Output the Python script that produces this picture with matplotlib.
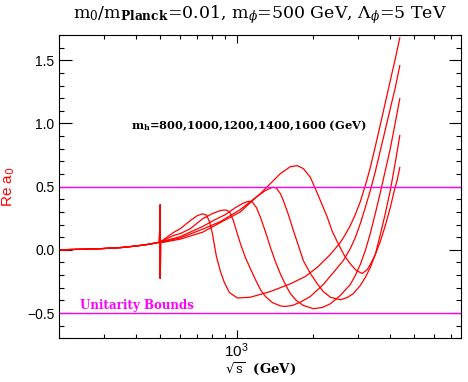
import numpy as np
import matplotlib.pyplot as plt
from matplotlib.ticker import MultipleLocator, LogLocator, NullFormatter

plt.rcParams['font.family'] = 'Liberation Sans'
plt.rcParams['mathtext.fontset'] = 'dejavusans'

# общий участок до радионного резонанса (m_phi = 500 GeV), одинаков для всех m_h
x_low = [200, 290, 350, 400, 440, 480, 496, 499.5, 500.2, 501]
y_low = [0.0, 0.009, 0.018, 0.030, 0.041, 0.054, 0.060, 0.355, -0.225, 0.066]

# m_h = 800
x_800 = [510, 563, 600, 657, 700, 733, 760, 781, 802, 832, 863, 894, 936, 1006, 1132,
         1357, 1627, 1864, 2078, 2338, 2560, 2679, 2803, 2933, 3069, 3211, 3360, 3516,
         3680, 3850, 4028, 4215, 4391]
y_800 = [0.074, 0.137, 0.168, 0.232, 0.271, 0.285, 0.275, 0.224, 0.129, -0.053, -0.172,
         -0.258, -0.338, -0.381, -0.375, -0.330, -0.269, -0.211, -0.138, -0.037, 0.058,
         0.121, 0.192, 0.279, 0.382, 0.508, 0.651, 0.817, 0.990, 1.164, 1.338, 1.512, 1.678]

# m_h = 1000
x_1000 = [510, 563, 600, 657, 733, 802, 863, 903, 936, 970, 1002, 1034, 1082, 1132, 1185,
          1240, 1297, 1382, 1486, 1555, 1657, 1781, 1951, 2194, 2403, 2630, 2803, 2933,
          3069, 3211, 3360, 3516, 3680, 3850, 4028, 4215, 4391]
y_1000 = [0.070, 0.113, 0.129, 0.168, 0.245, 0.287, 0.311, 0.316, 0.303, 0.232, 0.137,
          0.050, -0.061, -0.148, -0.235, -0.314, -0.369, -0.417, -0.444, -0.448, -0.440,
          -0.414, -0.369, -0.274, -0.180, -0.085, 0.010, 0.097, 0.208, 0.334, 0.469,
          0.619, 0.785, 0.951, 1.117, 1.283, 1.457]

# m_h = 1200
x_1200 = [510, 600, 733, 824, 903, 988, 1063, 1112, 1153, 1196, 1240, 1297, 1357, 1420,
          1486, 1555, 1627, 1718, 1830, 2005, 2175, 2338, 2560, 2803, 2933, 3069, 3211,
          3360, 3516, 3680, 3850, 4028, 4215, 4391]
y_1200 = [0.066, 0.105, 0.184, 0.240, 0.279, 0.334, 0.370, 0.384, 0.378, 0.334, 0.258,
          0.145, 0.021, -0.092, -0.190, -0.274, -0.346, -0.401, -0.440, -0.466, -0.456,
          -0.427, -0.361, -0.274, -0.203, -0.116, -0.006, 0.129, 0.287, 0.453, 0.627,
          0.800, 1.006, 1.196]

# m_h = 1400
x_1400 = [510, 600, 733, 863, 1034, 1185, 1297, 1382, 1433, 1486, 1527, 1598, 1672, 1750,
          1830, 1951, 2078, 2194, 2338, 2560, 2728, 2880, 3069, 3211, 3360, 3516, 3680,
          3850, 4028, 4215, 4391]
y_1400 = [0.062, 0.095, 0.163, 0.224, 0.319, 0.413, 0.469, 0.495, 0.489, 0.445, 0.390,
          0.279, 0.153, 0.034, -0.085, -0.187, -0.269, -0.330, -0.375, -0.395, -0.377,
          -0.346, -0.282, -0.219, -0.140, -0.037, 0.121, 0.287, 0.469, 0.690, 0.904]

# m_h = 1600
x_1600 = [510, 600, 733, 863, 1034, 1132, 1240, 1357, 1486, 1627, 1734, 1830, 1951, 2097,
          2275, 2381, 2514, 2655, 2803, 2960, 3125, 3270, 3360, 3516, 3680, 3850, 4028,
          4177, 4293, 4391]
y_1600 = [0.058, 0.085, 0.139, 0.216, 0.300, 0.374, 0.445, 0.524, 0.603, 0.658, 0.666,
          0.643, 0.574, 0.429, 0.258, 0.145, 0.047, -0.045, -0.111, -0.164, -0.187,
          -0.156, -0.116, -0.037, 0.066, 0.192, 0.334, 0.469, 0.556, 0.651]

unitarity = [0.5, -0.5]

curves = [(x_800, y_800), (x_1000, y_1000), (x_1200, y_1200),
          (x_1400, y_1400), (x_1600, y_1600)]

fig = plt.figure(figsize=(4.68, 3.82), dpi=100)
ax = fig.add_axes([0.1267, 0.1144, 0.8583, 0.794])

for xs, ys in curves:
    ax.plot(x_low + xs, y_low + ys, color='red', lw=0.9)

for u in unitarity:
    ax.axhline(u, color='magenta', lw=1.0)

ax.set_xscale('log')
ax.set_xlim(200, 7650)
ax.set_ylim(-0.7, 1.7)

ax.xaxis.set_major_locator(LogLocator(base=10))
ax.xaxis.set_minor_locator(LogLocator(base=10, subs=np.arange(2, 10)))
ax.xaxis.set_minor_formatter(NullFormatter())
ax.yaxis.set_major_locator(MultipleLocator(0.5))
ax.yaxis.set_minor_locator(MultipleLocator(0.1))

ax.tick_params(which='both', direction='in', top=True, right=True, width=0.8,
               labelsize=10, colors='black')
ax.tick_params(axis='y', which='major', length=9)
ax.tick_params(axis='y', which='minor', length=3.6)
ax.tick_params(axis='x', which='major', length=6, pad=2.5, labelsize=11)
ax.tick_params(axis='x', which='minor', length=3)
for s in ax.spines.values():
    s.set_linewidth(0.8)

ax.set_title(r"m$_0$/m$_{\bf Planck}$=0.01, m$_\phi$=500 GeV, $\Lambda_\phi$=5 TeV",
             family='DejaVu Serif', math_fontfamily='dejavuserif', fontsize=12.5, pad=12)

ax.text(382, 0.98, r"m$_\mathbf{h}$=800,1000,1200,1400,1600 (GeV)", fontsize=8.2,
        fontweight='bold', family='DejaVu Serif', math_fontfamily='dejavuserif',
        va='center')
ax.text(242, -0.44, "Unitarity Bounds", fontsize=8.6, fontweight='bold',
        family='DejaVu Serif', color='magenta', va='center')

ax.set_xlabel(r"$\sqrt{\rm s}$  (GeV)", family='DejaVu Serif', math_fontfamily='dejavuserif',
              fontsize=9.5, fontweight='bold')
ax.xaxis.set_label_coords(0.502, -0.072)
ax.set_ylabel(r"Re a$_0$", color='red', fontsize=11)
ax.yaxis.set_label_coords(-0.105, 0.5)

fig.savefig('out.png', dpi=100)
